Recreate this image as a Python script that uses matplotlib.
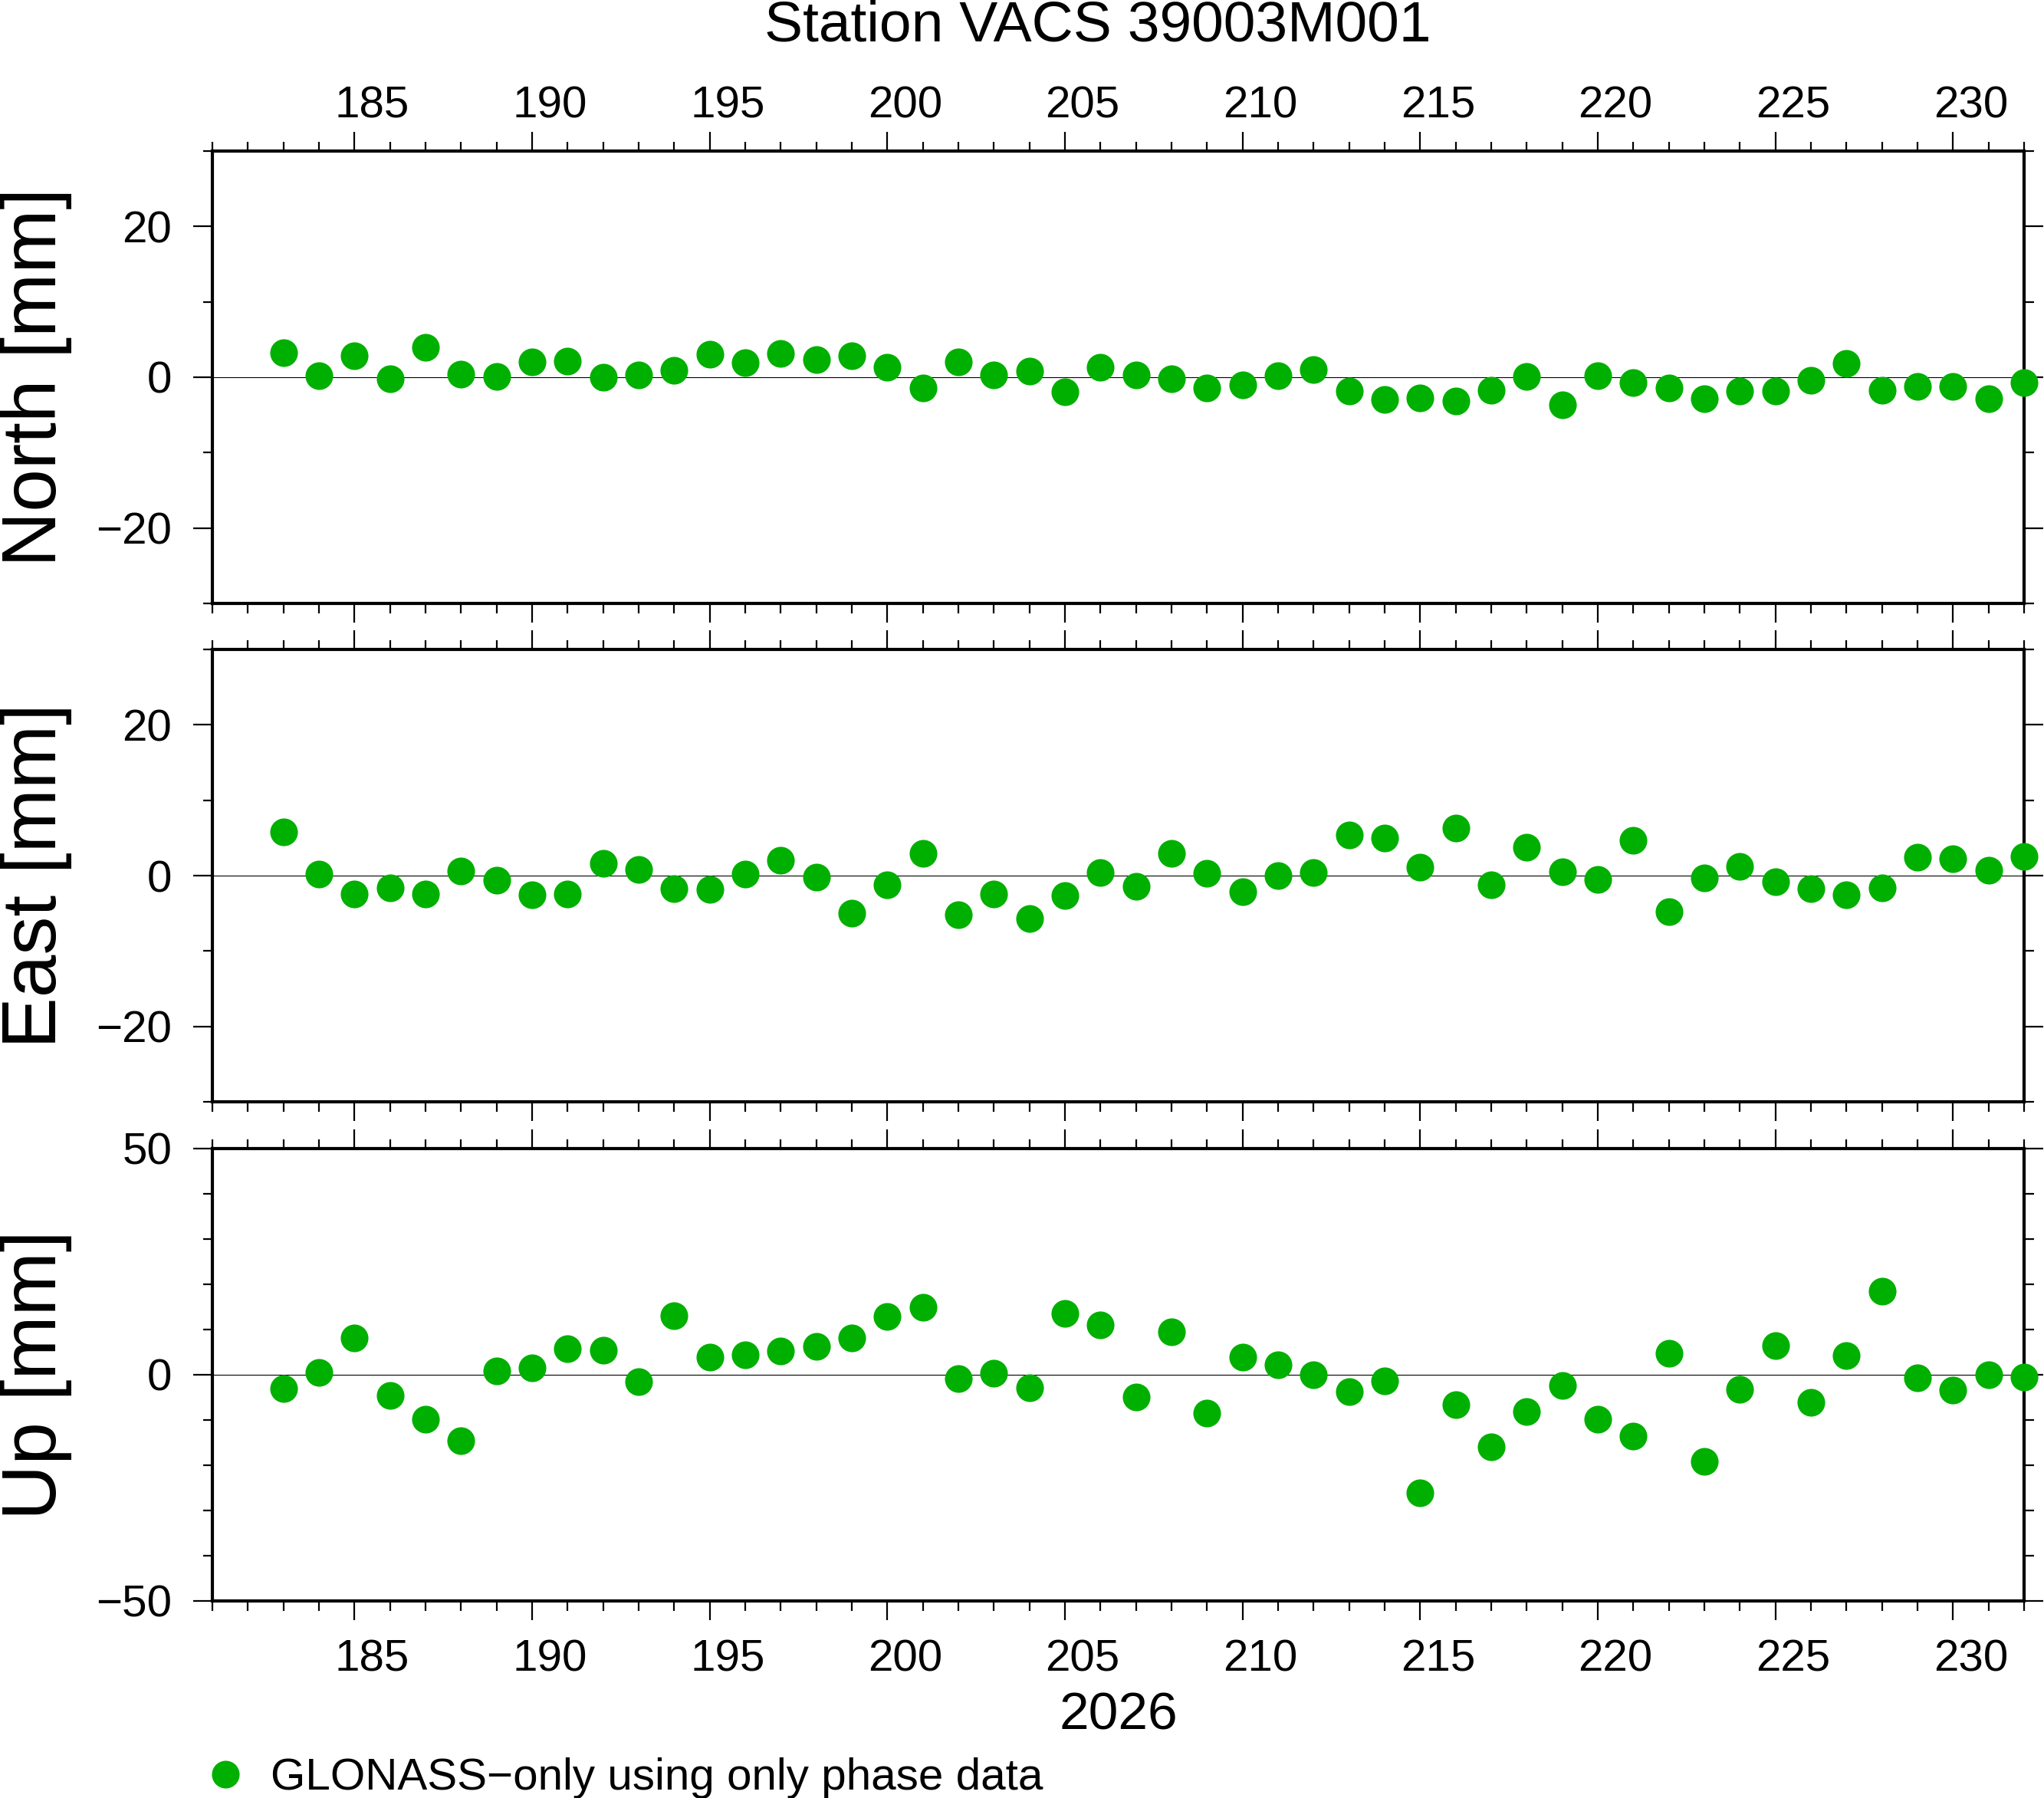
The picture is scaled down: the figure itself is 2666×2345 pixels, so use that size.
import numpy as np
import matplotlib
matplotlib.use('Agg')
from matplotlib import pyplot as plt
from matplotlib.lines import Line2D

plt.rcParams['font.family'] = ['Liberation Sans', 'DejaVu Sans']

title = 'Station VACS 39003M001'
year_label = '2026'
legend_label = 'GLONASS\u2212only using only phase data'

days = np.arange(183, 233)

north = [3.3, 0.2, 2.8, -0.2, 4.0, 0.4, 0.1, 2.0, 2.1, 0.0, 0.3, 0.9, 3.0, 1.9, 3.1, 2.3, 2.8,
         1.3, -1.4, 2.0, 0.3, 0.8, -1.9, 1.3, 0.3, -0.2, -1.4, -1.0, 0.2, 1.0, -1.8, -3.0, -2.7,
         -3.2, -1.7, 0.1, -3.7, 0.2, -0.7, -1.4, -2.8, -1.8, -1.8, -0.4, 1.8, -1.7, -1.2, -1.2,
         -2.9, -0.7]
east = [5.8, 0.2, -2.4, -1.6, -2.4, 0.6, -0.6, -2.5, -2.4, 1.6, 0.8, -1.7, -1.8, 0.2, 2.0, -0.2,
        -5.0, -1.2, 2.9, -5.2, -2.4, -5.7, -2.6, 0.4, -1.4, 2.9, 0.3, -2.1, 0.0, 0.4, 5.4, 5.0,
        1.1, 6.3, -1.2, 3.8, 0.5, -0.5, 4.7, -4.8, -0.3, 1.2, -0.8, -1.7, -2.5, -1.6, 2.4, 2.2,
        0.7, 2.5]
up = [-3.1, 0.5, 8.1, -4.6, -9.8, -14.6, 0.8, 1.5, 5.7, 5.4, -1.5, 13.0, 3.9, 4.4, 5.2, 6.3,
      8.1, 12.9, 14.9, -0.8, 0.3, -2.8, 13.5, 11.0, -4.9, 9.5, -8.5, 3.9, 2.2, 0.0, -3.7, -1.4,
      -26.1, -6.6, -15.9, -8.1, -2.3, -9.8, -13.5, 4.8, -19.1, -3.2, 6.4, -6.1, 4.3, 18.5, -0.7,
      -3.4, 0.0, -0.5]

panels = [('North [mm]', north, 30, [-20, 0, 20]),
          ('East [mm]', east, 30, [-20, 0, 20]),
          ('Up [mm]', up, 50, [-50, 0, 50])]

xmin, xmax = 181, 232
green = '#00b000'

fig = plt.figure(figsize=(26.66, 23.45), dpi=100)
left, right = 0.1039, 0.9902
boxes = [(0.6644, 0.9160), (0.3872, 0.6388), (0.1096, 0.3612)]

# day labels sit in the middle of the day interval
label_days = np.arange(185, 231, 5)
label_pos = label_days + 0.5

for i, ((name, vals, lim, yt), (b, t)) in enumerate(zip(panels, boxes)):
    ax = fig.add_axes([left, b, right - left, t - b])
    ax.axhline(0, color='black', lw=0.8, zorder=1)
    ax.plot(days, vals, 'o', color=green, markersize=26, markeredgewidth=0,
            clip_on=False, zorder=5)
    ax.set_xlim(xmin, xmax)
    ax.set_ylim(-lim, lim)
    ax.set_yticks(yt)
    ax.set_yticks(np.arange(-lim, lim + 1, 10), minor=True)
    ax.set_xticks(np.arange(185, 232, 5))
    ax.set_xticks(np.arange(xmin, xmax + 1, 1), minor=True)
    ax.set_xticklabels([])
    for s in ax.spines.values():
        s.set_linewidth(3)
    ax.tick_params(which='both', direction='out', top=True, right=True, width=1.6)
    ax.tick_params(which='major', length=18)
    ax.tick_params(which='minor', length=9)
    ax.tick_params(axis='y', which='major', labelsize=42, pad=20)
    ax.set_ylabel(name, fontsize=72)
    ax.yaxis.set_label_coords(-0.0774, 0.5)

    if i == 0:
        sec = ax.secondary_xaxis('top')
        sec.set_xticks(label_pos, [str(d) for d in label_days])
        sec.tick_params(length=0, labelsize=42, pad=23)
        sec.spines['top'].set_visible(False)
    if i == 2:
        sec = ax.secondary_xaxis('bottom')
        sec.set_xticks(label_pos, [str(d) for d in label_days])
        sec.tick_params(length=0, labelsize=42, pad=36)
        sec.spines['bottom'].set_visible(False)
        sec.set_xlabel(year_label, fontsize=50, labelpad=10)

fig.suptitle(title, x=0.537, y=1.0, va='top', fontsize=54)

handle = Line2D([], [], marker='o', linestyle='none', color=green, markersize=26,
                markeredgewidth=0)
fig.legend([handle], [legend_label], loc='center left', bbox_to_anchor=(0.0994, 0.011),
           frameon=False, fontsize=42, handlelength=1, handletextpad=0.5, borderpad=0,
           borderaxespad=0)

fig.savefig('out.png', dpi=100)
